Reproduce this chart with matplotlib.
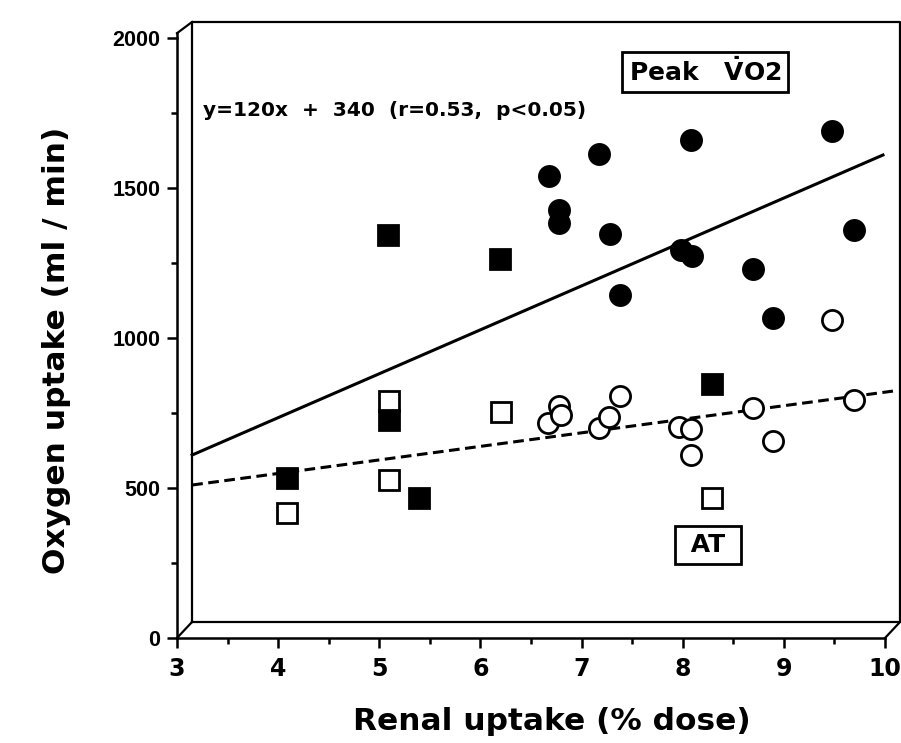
import matplotlib.pyplot as plt
from matplotlib.ticker import MultipleLocator

# ---------------- data ----------------
# Peak VO2 (filled symbols), AT (open symbols)
peak_circ_x = [6.68, 7.17, 8.08, 9.48, 6.78, 6.78, 7.28, 7.98, 8.09, 9.69, 8.69, 7.38, 8.89]
peak_circ_y = [1540, 1613, 1660, 1690, 1427, 1383, 1347, 1293, 1273, 1360, 1230, 1143, 1067]
at_circ_x = [6.67, 6.78, 6.80, 7.17, 7.27, 7.38, 7.96, 8.08, 8.08, 8.69, 8.89, 9.48, 9.69]
at_circ_y = [717, 775, 745, 700, 737, 807, 703, 697, 610, 767, 657, 1060, 793]
peak_sq_x = [4.09, 5.09, 5.10, 5.39, 6.19, 8.29]
peak_sq_y = [533, 1343, 727, 467, 1263, 847]
at_sq_x = [4.09, 5.10, 5.10, 6.20, 8.29]
at_sq_y = [417, 790, 527, 753, 467]

# regression lines as drawn
peak_fit_x = [3.15, 9.98]
peak_fit_y = [610, 1610]
at_fit_x = [3.15, 10.1]
at_fit_y = [510, 824]

x_ticks = [3, 4, 5, 6, 7, 8, 9, 10]
y_ticks = [0, 500, 1000, 1500, 2000]

fit_text = 'y=120x  +  340  (r=0.53,  p<0.05)'

# ---------------- figure ----------------
plt.rcParams['font.family'] = ['DejaVu Sans']
plt.rcParams['font.weight'] = 'bold'
plt.rcParams['mathtext.fontset'] = 'dejavusans'

fig = plt.figure(figsize=(9.01, 7.43), dpi=100)
ax = fig.add_axes([177 / 901, 105 / 743, 708 / 901, 600 / 743])
ax.set_xlim(3, 10)
ax.set_ylim(0, 2000)

for s in ['top', 'right']:
    ax.spines[s].set_visible(False)
for s in ['left', 'bottom']:
    ax.spines[s].set_linewidth(1.8)

# back frame of the pseudo-3D box (axes fraction)
dx, dy = 15 / 708, 16 / 600
k = dict(transform=ax.transAxes, color='black', lw=1.6, clip_on=False)
ax.plot([dx, 1 + dx, 1 + dx, dx, dx], [dy, dy, 1 + dy, 1 + dy, dy], **k)
ax.plot([0, dx], [0, dy], **k)
ax.plot([1, 1 + dx], [0, dy], **k)
ax.plot([0, 0], [1, 1.008], transform=ax.transAxes, color='black', lw=1.8, clip_on=False)
ax.plot([0, dx], [1.008, 1 + dy], **k)

# fit lines
ax.plot(peak_fit_x, peak_fit_y, color='black', lw=2.2, clip_on=False)
ax.plot(at_fit_x, at_fit_y, color='black', lw=2.2, ls=(0, (3.5, 1.8)), clip_on=False)

ms = 14.5
ax.plot(at_sq_x, at_sq_y, 's', ms=ms, mfc='white', mec='black', mew=2, ls='none', clip_on=False)
ax.plot(peak_sq_x, peak_sq_y, 's', ms=ms, mfc='black', mec='black', mew=2, ls='none', clip_on=False)
ax.plot(at_circ_x, at_circ_y, 'o', ms=ms, mfc='white', mec='black', mew=2, ls='none', clip_on=False)
ax.plot(peak_circ_x, peak_circ_y, 'o', ms=ms, mfc='black', mec='black', mew=2, ls='none', clip_on=False)

ax.text(3.26, 1760, fit_text, fontsize=14.5, fontweight='bold', va='center', ha='left')
ax.text(8.22, 1887, r'Peak   $\dot{\mathbf{V}}$O2', fontsize=18, fontweight='bold', ha='center', va='center',
        bbox=dict(boxstyle='square,pad=0.25', fc='white', ec='black', lw=2))
ax.text(8.25, 310, ' AT ', fontsize=18, fontweight='bold', ha='center', va='center',
        bbox=dict(boxstyle='square,pad=0.28', fc='white', ec='black', lw=2))

ax.set_xticks(x_ticks)
ax.set_yticks(y_ticks)
ax.xaxis.set_minor_locator(MultipleLocator(0.5))
ax.yaxis.set_minor_locator(MultipleLocator(250))
ax.tick_params(which='major', length=7, width=1.8, direction='out')
ax.tick_params(which='minor', length=4, width=1.8, direction='out')
ax.tick_params(axis='x', pad=7)
ax.tick_params(axis='y', pad=5)
for lab in ax.get_yticklabels():
    lab.set_fontfamily('Liberation Sans')
    lab.set_fontweight('bold')
    lab.set_fontsize(15.5)
for lab in ax.get_xticklabels():
    lab.set_fontweight('bold')
    lab.set_fontsize(17)

fig.text(552 / 901, 1 - 722 / 743, 'Renal uptake (% dose)', fontsize=22.5, fontweight='bold',
         ha='center', va='center')
fig.text(57 / 901, 1 - 350 / 743, 'Oxygen uptake (ml / min)', fontsize=22.5, fontweight='bold',
         ha='center', va='center', rotation=90)

fig.savefig('out.png', dpi=100)
